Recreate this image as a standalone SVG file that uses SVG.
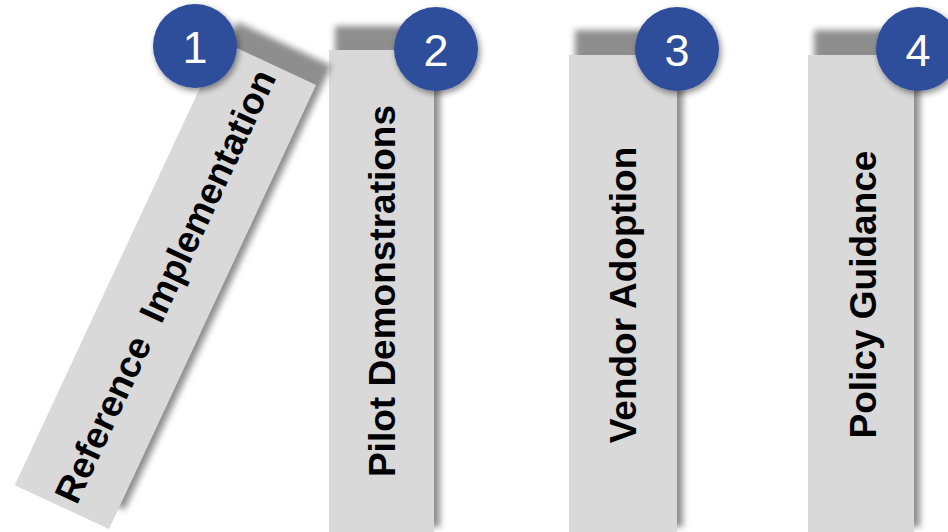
<svg xmlns="http://www.w3.org/2000/svg" width="948" height="532" viewBox="0 0 948 532">
<defs>
<filter id="blur" x="-20%" y="-10%" width="140%" height="120%"><feGaussianBlur stdDeviation="3"/></filter>
<filter id="cs" x="-30%" y="-30%" width="160%" height="160%"><feDropShadow dx="2" dy="3" stdDeviation="3" flood-color="#000" flood-opacity="0.45"/></filter>
</defs>
<style>
.face{fill:#d9d9d9}
.shadow{fill:#8e8e8e;filter:url(#blur)}
.badge{fill:#2e4d9b;filter:url(#cs)}
.num{fill:#fff;font-family:"Liberation Sans",Arial,sans-serif;font-size:45px;text-anchor:middle}
.label{fill:#000;font-family:"Liberation Sans",Arial,sans-serif;font-weight:bold;font-size:37px;text-anchor:middle;white-space:pre}
</style>
<rect width="948" height="532" fill="#fff"/>
<g id="domino2">
<rect class="shadow" x="335" y="26" width="105" height="501"/>
<rect class="face" x="329" y="50" width="105" height="502"/>
<text class="label" x="394.5" y="291" transform="rotate(-90 394.5 291)">Pilot Demonstrations</text>
<circle class="badge" cx="436" cy="49" r="42"/>
<text class="num" x="436" y="66">2</text>
</g>
<g id="domino1">
<g transform="translate(165,286) rotate(25)">
<rect class="shadow" x="-46" y="-270" width="104" height="490"/>
<rect class="face" x="-52" y="-246" width="104" height="490"/>
<text class="label" x="13" y="0" transform="rotate(-90 13 0)">Reference  Implementation</text>
</g>
<circle class="badge" cx="195" cy="46" r="42"/>
<text class="num" x="195" y="63">1</text>
</g>
<g id="domino3">
<rect class="shadow" x="575" y="30" width="108" height="497"/>
<rect class="face" x="569" y="55" width="108" height="497"/>
<text class="label" x="636" y="295" transform="rotate(-90 636 295)">Vendor Adoption</text>
<circle class="badge" cx="677" cy="49" r="42"/>
<text class="num" x="677" y="66">3</text>
</g>
<g id="domino4">
<rect class="shadow" x="814" y="30" width="106" height="497"/>
<rect class="face" x="808" y="55" width="106" height="497"/>
<text class="label" x="875.5" y="294.5" transform="rotate(-90 875.5 294.5)">Policy Guidance</text>
<circle class="badge" cx="918" cy="49" r="42"/>
<text class="num" x="918" y="66">4</text>
</g>
</svg>
